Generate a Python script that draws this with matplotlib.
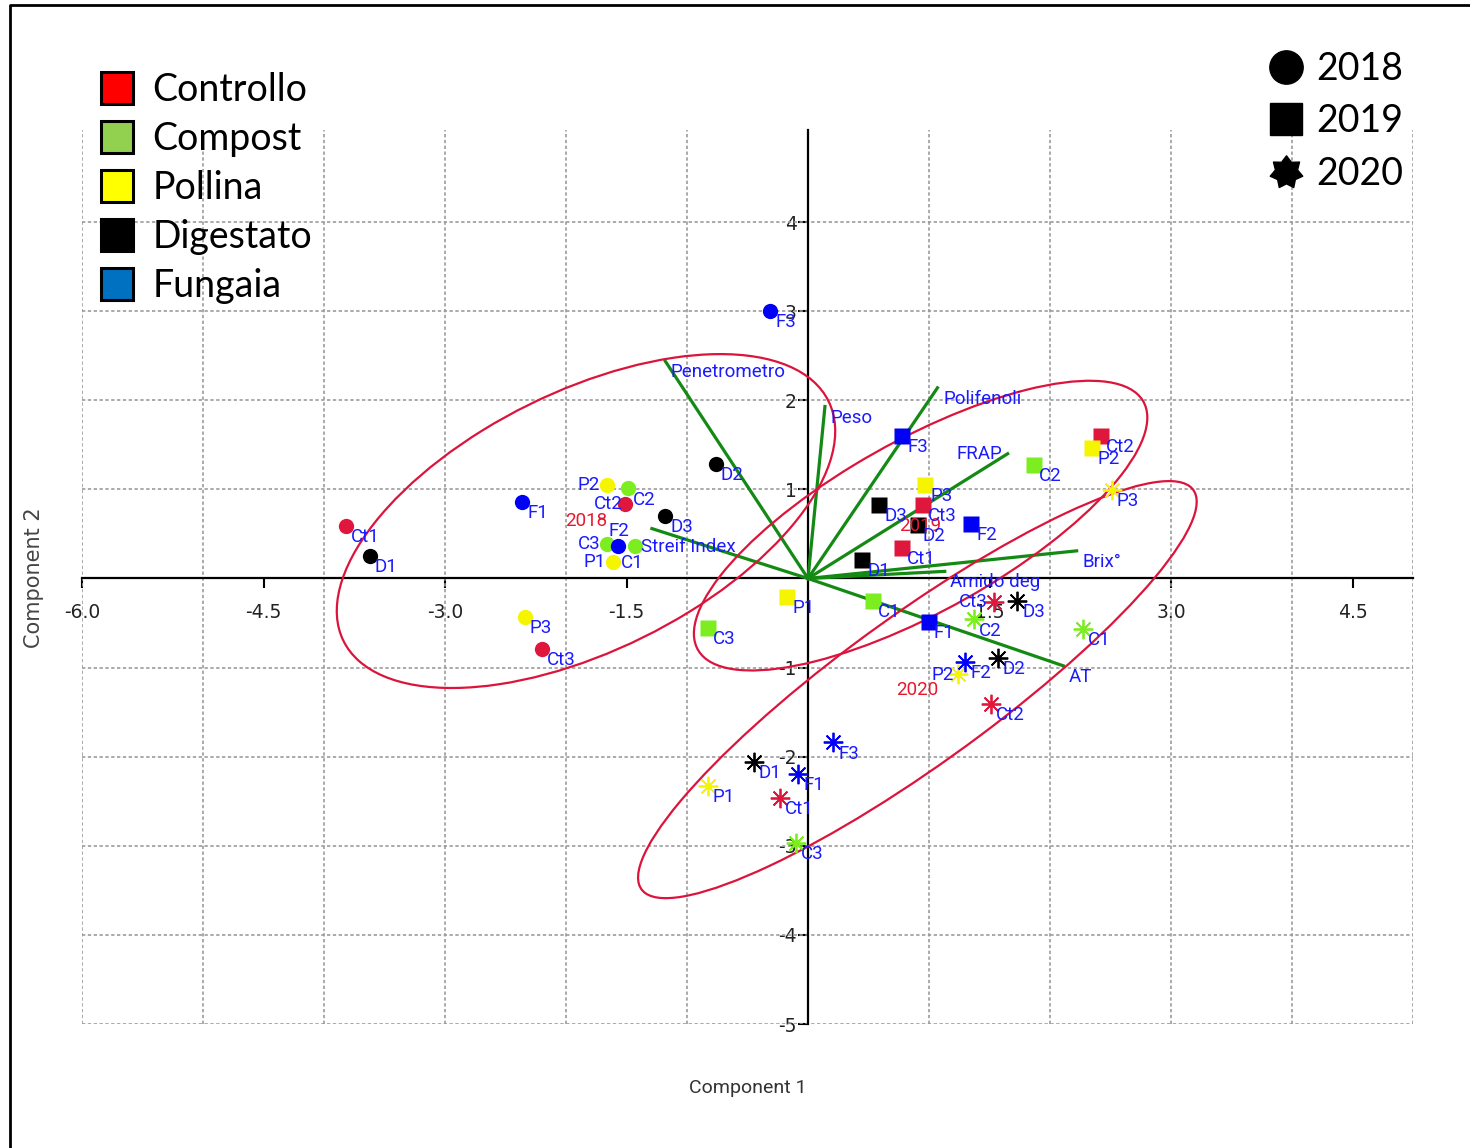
import numpy as np
import matplotlib.pyplot as plt
from matplotlib.patches import Ellipse
from matplotlib.lines import Line2D
from matplotlib.path import Path

# PCA scores (Component 1, Component 2) per sample, one set of lists per year
labels = ['Ct1', 'Ct2', 'Ct3', 'C1', 'C2', 'C3', 'P1', 'P2', 'P3',
          'D1', 'D2', 'D3', 'F1', 'F2', 'F3']

x_2018 = [-3.82, -1.51, -2.20, -1.43, -1.49, -1.66, -1.61, -1.66, -2.34,
          -3.62, -0.76, -1.18, -2.36, -1.57, -0.31]
y_2018 = [0.59, 0.84, -0.79, 0.36, 1.01, 0.39, 0.19, 1.05, -0.43,
          0.25, 1.29, 0.70, 0.86, 0.36, 3.00]

x_2019 = [0.78, 2.42, 0.95, 0.54, 1.87, -0.83, -0.17, 2.35, 0.97,
          0.45, 0.91, 0.59, 1.00, 1.35, 0.78]
y_2019 = [0.34, 1.60, 0.83, -0.25, 1.27, -0.56, -0.21, 1.47, 1.05,
          0.21, 0.60, 0.83, -0.49, 0.61, 1.60]

x_2020 = [-0.23, 1.51, 1.54, 2.27, 1.37, -0.10, -0.83, 1.24, 2.51,
          -0.45, 1.57, 1.73, -0.08, 1.30, 0.21]
y_2020 = [-2.46, -1.41, -0.26, -0.57, -0.46, -2.97, -2.33, -1.07, 0.99,
          -2.06, -0.89, -0.25, -2.19, -0.94, -1.84]

# loadings of the measured variables
var_names = ['Penetrometro', 'Peso', 'Polifenoli', 'FRAP', 'Brix°',
             'Amido deg', 'AT', 'Streif Index']
var_x = [-1.18, 0.14, 1.07, 1.65, 2.22, 1.13, 2.11, -1.29]
var_y = [2.44, 1.93, 2.14, 1.40, 0.31, 0.08, -0.98, 0.56]

years = ['2018', '2019', '2020']
treatments = ['Controllo', 'Compost', 'Pollina', 'Digestato', 'Fungaia']
prefix = {'Ct': 'Controllo', 'C': 'Compost', 'P': 'Pollina',
          'D': 'Digestato', 'F': 'Fungaia'}

scores = {'2018': (x_2018, y_2018), '2019': (x_2019, y_2019),
          '2020': (x_2020, y_2020)}

plot_col = {'Controllo': '#e0173c', 'Compost': '#7ced1f', 'Pollina': '#f5f500',
            'Digestato': '#000000', 'Fungaia': '#0000f5'}
key_col = {'Controllo': '#ff0000', 'Compost': '#92d050', 'Pollina': '#ffff00',
           'Digestato': '#000000', 'Fungaia': '#0070c0'}
year_marker = {'2018': 'o', '2019': 's', '2020': (8, 2, 0)}
year_size = {'2018': 11, '2019': 12, '2020': 14}

# label offsets in points (dx, dy, ha); everything else sits lower right
lab_off = {('2018', 'P2'): (-5, 0, 'right'), ('2018', 'Ct2'): (-2, 0, 'right'),
           ('2018', 'C3'): (-5, 0, 'right'), ('2018', 'P1'): (-5, 0, 'right'),
           ('2018', 'F2'): (1, 11, 'center'), ('2018', 'C1'): (-2, -12, 'center'),
           ('2020', 'Ct3'): (-5, 0, 'right'), ('2020', 'P2'): (-3, -1, 'right')}
var_off = {'FRAP': (-4, 0, 'right'), 'Streif Index': (-8, -13, 'left')}

FONT = 'Roboto'
LAB_FS = 13.5
ELL_K = 2.2

# seven-pointed seal used for 2020 in the key
_a = np.pi / 2 + np.arange(14) * np.pi / 7
_r = np.where(np.arange(14) % 2 == 0, 1.0, 0.68)
_v = np.column_stack([_r * np.cos(_a), _r * np.sin(_a)])
seal = Path(np.vstack([_v, _v[:1]]), closed=True)

W, H = 1470, 1148
fig = plt.figure(figsize=(W / 100, H / 100), dpi=100)
ax = fig.add_axes([82 / W, 1 - 1024 / H, (1413 - 82) / W, 893.7 / H])
ax.set_xlim(-6, 5)
ax.set_ylim(-5, 5.03)
ax.xaxis.remove_overlapping_locs = False
ax.yaxis.remove_overlapping_locs = False

# grid on every unit, drawn from minor ticks
ax.set_xticks(np.arange(-6, 6), minor=True)
ax.set_yticks(np.arange(-5, 5), minor=True)
ax.grid(which='minor', color='#9c9c9c', linestyle=(0, (2, 1.5)), linewidth=1.2)
ax.tick_params(which='minor', length=0)

xt = [-6, -4.5, -3, -1.5, 1.5, 3, 4.5]
yt = [4, 3, 2, 1, -1, -2, -3, -4, -5]
ax.set_xticks(xt)
ax.set_xticklabels([f'{v:.1f}' for v in xt])
ax.set_yticks(yt)
ax.set_yticklabels([str(v) for v in yt])
ax.tick_params(axis='x', which='major', length=7, width=1.5, pad=11,
               labelsize=13.5, labelcolor='#222222')
ax.tick_params(axis='y', which='major', length=7, width=1.5, pad=1,
               labelsize=13.5, labelcolor='#222222')
for t in ax.get_xticklabels() + ax.get_yticklabels():
    t.set_family(FONT)

ax.spines['left'].set_position('zero')
ax.spines['bottom'].set_position('zero')
ax.spines['left'].set_linewidth(1.6)
ax.spines['bottom'].set_linewidth(1.6)
ax.spines['right'].set_visible(False)
ax.spines['top'].set_visible(False)

# loading vectors
for name, vx, vy in zip(var_names, var_x, var_y):
    ax.plot([0, vx], [0, vy], color='#148a14', lw=2.3, zorder=3)
    dx, dy, ha = var_off.get(name, (4, -8, 'left'))
    ax.annotate(name, (vx, vy), xytext=(dx, dy), textcoords='offset points',
                ha=ha, va='center', fontsize=LAB_FS, color='#1a1aff',
                family=FONT, zorder=6)

# year ellipses from the covariance of each group, labelled at the centroid
for yr in years:
    xs, ys = np.array(scores[yr][0]), np.array(scores[yr][1])
    vals, vecs = np.linalg.eigh(np.cov(xs, ys))
    order = vals.argsort()[::-1]
    vals, vecs = vals[order], vecs[:, order]
    ang = np.degrees(np.arctan2(vecs[1, 0], vecs[0, 0]))
    ax.add_patch(Ellipse((xs.mean(), ys.mean()), 2 * ELL_K * np.sqrt(vals[0]),
                         2 * ELL_K * np.sqrt(vals[1]), angle=ang, fill=False,
                         edgecolor='#dc143c', lw=1.6, zorder=4))
    ax.text(xs.mean(), ys.mean(), yr, ha='center', va='center', fontsize=LAB_FS,
            color='#e8182f', family=FONT, zorder=6)

# sample scores
for yr in years:
    for lab, px, py in zip(labels, *scores[yr]):
        c = plot_col[prefix[lab[:-1]]]
        if yr == '2020':
            ax.plot(px, py, ls='none', marker=year_marker[yr], ms=year_size[yr],
                    mec=c, mew=1.3, zorder=5)
        else:
            ax.plot(px, py, ls='none', marker=year_marker[yr], ms=year_size[yr],
                    mfc=c, mec='none', zorder=5)
        dx, dy, ha = lab_off.get((yr, lab), (3.5, -8, 'left'))
        ax.annotate(lab, (px, py), xytext=(dx, dy), textcoords='offset points',
                    ha=ha, va='center', fontsize=LAB_FS, color='#1a1aff',
                    family=FONT, zorder=6)

fig.text(748 / W, 1 - 1088 / H, 'Component 1', ha='center', va='center',
         fontsize=14, color='#333333', family=FONT)
fig.text(34 / W, 1 - 578 / H, 'Component 2', ha='center', va='center',
         rotation=90, fontsize=15, color='#444444', family='DejaVu Sans')

# treatment key
t_handles = [Line2D([], [], ls='none', marker='s', ms=23, mfc=key_col[t],
                    mec='black', mew=2.2) for t in treatments]
fig.legend(t_handles, treatments, loc='upper left',
           bbox_to_anchor=(98 / W, 1 - 72 / H), frameon=False,
           prop={'family': 'Lato', 'size': 27}, handlelength=1.0,
           handletextpad=0.45, labelspacing=0.35, borderpad=0, borderaxespad=0)

# year key
y_handles = [Line2D([], [], ls='none', marker=m, ms=s, color='black')
             for m, s in [('o', 24), ('s', 23), (seal, 24)]]
fig.legend(y_handles, years, loc='upper left',
           bbox_to_anchor=(1267 / W, 1 - 51 / H), frameon=False,
           prop={'family': 'Lato', 'size': 27}, handlelength=1.0,
           handletextpad=0.32, labelspacing=0.44, borderpad=0, borderaxespad=0)

# outer frame on the left and top
fig.add_artist(Line2D([10 / W, 10 / W, 1], [0, 1 - 5 / H, 1 - 5 / H],
                      transform=fig.transFigure, color='black', lw=2))

fig.savefig('out.png', dpi=100)
